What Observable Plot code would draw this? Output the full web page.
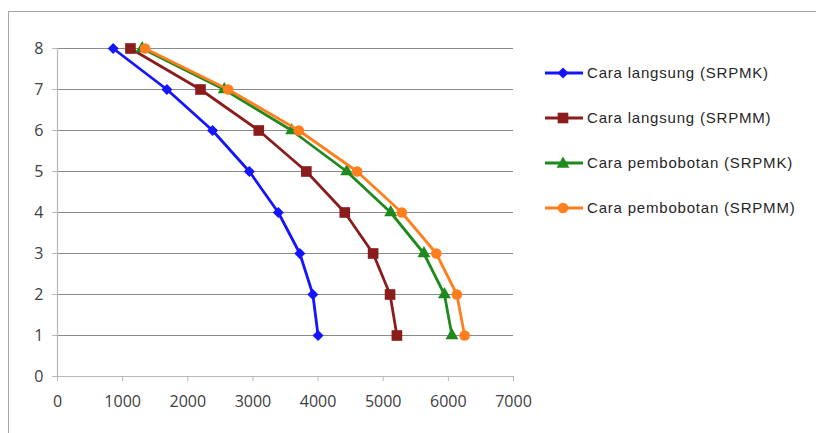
<!DOCTYPE html>
<html>
<head>
<meta charset="utf-8">
<script src="https://cdn.jsdelivr.net/npm/d3@7"></script>
<script src="https://cdn.jsdelivr.net/npm/@observablehq/plot@0.6"></script>
<style>
  html, body { margin: 0; padding: 0; background: #fff; }
  #wrap { position: relative; width: 816px; height: 433px; overflow: hidden; }
  #frame { position: absolute; left: 8px; top: 11px; width: 900px; height: 500px;
           border: 1.5px solid #a6a6a6; box-sizing: border-box; }
  #chart, #legend { position: absolute; left: 0; top: 0; }
  #legend { left: 540px; top: 55px; }
</style>
</head>
<body>
<div id="wrap">
  <div id="frame"></div>
  <div id="chart"></div>
  <svg id="legend" width="276" height="180"></svg>
</div>
<script>
// Floor levels (vertical axis)
const levels = [8, 7, 6, 5, 4, 3, 2, 1];

// Values per floor for each method
const langsungSRPMK   = [855, 1680, 2380, 2945, 3390, 3720, 3920, 4000];
const langsungSRPMM   = [1120, 2195, 3090, 3820, 4410, 4845, 5105, 5210];
const pembobotanSRPMK = [1300, 2560, 3595, 4440, 5115, 5625, 5940, 6055];
const pembobotanSRPMM = [1345, 2620, 3705, 4600, 5285, 5815, 6130, 6250];

const seriesNames = [
  "Cara langsung (SRPMK)",
  "Cara langsung (SRPMM)",
  "Cara pembobotan (SRPMK)",
  "Cara pembobotan (SRPMM)"
];
const seriesValues = [langsungSRPMK, langsungSRPMM, pembobotanSRPMK, pembobotanSRPMM];
const seriesColors = ["#1414ff", "#8a1c1c", "#1e8a1e", "#ff7f1f"];

const xTicks = [0, 1000, 2000, 3000, 4000, 5000, 6000, 7000];
const yTicks = [0, 1, 2, 3, 4, 5, 6, 7, 8];

// Square-rotated diamond marker (equal width and height)
const symbolDiamondSquare = {
  draw(context, size) {
    const h = Math.sqrt(size / 2);
    context.moveTo(0, -h);
    context.lineTo(h, 0);
    context.lineTo(0, h);
    context.lineTo(-h, 0);
    context.closePath();
  }
};
const seriesSymbols = [symbolDiamondSquare, d3.symbolSquare, d3.symbolTriangle, d3.symbolCircle];
const symbolRadius = [4.4, 6.0, 4.8, 5.3];

const rows = seriesNames.flatMap((name, i) =>
  levels.map((lv, j) => ({ series: name, idx: i, level: lv, value: seriesValues[i][j] }))
);

const tickFont = "'Open Sans', 'Noto Sans', sans-serif";

const marks = [
  Plot.ruleY(yTicks.filter(d => d > 0), { stroke: "#8a8a8a", strokeWidth: 1 }),
  Plot.ruleX([0], { stroke: "#b8b8b8", strokeWidth: 1.2 }),
  Plot.ruleY([0], { stroke: "#b8b8b8", strokeWidth: 1.2 }),
  // tick marks only; labels are drawn as text marks below
  Plot.axisX({ ticks: xTicks, tickSize: 5, stroke: "#b8b8b8", tickFormat: () => "", label: null }),
  Plot.axisY({ ticks: yTicks, tickSize: 5, stroke: "#b8b8b8", tickFormat: () => "", label: null }),
  Plot.text(xTicks, { x: d => d, y: 0, text: d => String(d), dy: 25, fontSize: 16,
                      fontFamily: tickFont, fill: "#404040" }),
  Plot.text(yTicks, { x: 0, y: d => d, text: d => String(d), dx: -14, textAnchor: "end",
                      fontSize: 16, fontFamily: tickFont, fill: "#404040" })
];

seriesNames.forEach((name, i) => {
  const data = rows.filter(r => r.idx === i);
  marks.push(Plot.line(data, { x: "value", y: "level", stroke: seriesColors[i], strokeWidth: 2.8 }));
  marks.push(Plot.dot(data, { x: "value", y: "level", fill: seriesColors[i], stroke: "none",
                              symbol: seriesSymbols[i], r: symbolRadius[i] }));
});

const chart = Plot.plot({
  width: 816,
  height: 433,
  marginLeft: 57,
  marginRight: 303,
  marginTop: 48,
  marginBottom: 57,
  style: { background: "transparent", overflow: "visible" },
  x: { domain: [0, 7000], insetLeft: 0, insetRight: 0 },
  y: { domain: [0, 8], insetTop: 0, insetBottom: 0 },
  marks
});
document.getElementById("chart").appendChild(chart);

// Legend
const legend = d3.select("#legend");
seriesNames.forEach((name, i) => {
  const g = legend.append("g").attr("transform", `translate(0, ${18 + i * 45})`);
  g.append("line").attr("x1", 5).attr("x2", 43).attr("y1", 0).attr("y2", 0)
    .attr("stroke", seriesColors[i]).attr("stroke-width", 2.8);
  const r = symbolRadius[i];
  g.append("path").attr("d", d3.symbol(seriesSymbols[i], r * r * Math.PI)())
    .attr("transform", `translate(23, ${i === 2 ? 1 : 0})`).attr("fill", seriesColors[i]);
  g.append("text").attr("x", 47).attr("y", 0).attr("dy", "0.36em")
    .attr("font-family", "'Liberation Sans', Arial, sans-serif").attr("font-size", 15)
    .attr("letter-spacing", 0.8).attr("fill", "#262626").text(name);
});
</script>
</body>
</html>
